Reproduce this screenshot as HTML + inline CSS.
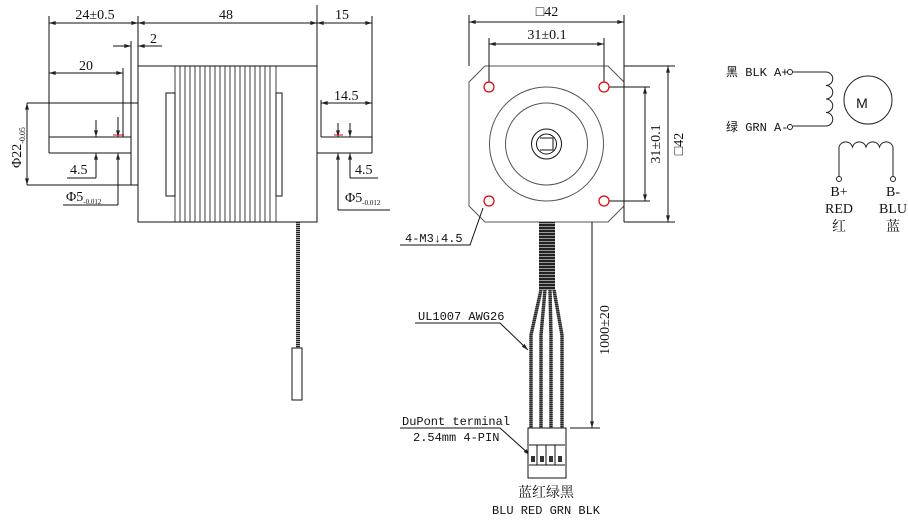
<!DOCTYPE html>
<html><head><meta charset="utf-8"><style>
html,body{margin:0;padding:0;background:#fff;}
svg{display:block;}
text{font-family:"Liberation Serif","Noto Serif CJK SC",serif;font-size:14px;fill:#111;}
.m{font-family:"Liberation Mono","Noto Sans CJK SC",monospace;font-size:12px;}
</style></head><body>
<svg width="908" height="521" viewBox="0 0 908 521" xmlns="http://www.w3.org/2000/svg">
<defs>
<marker id="a" viewBox="0 0 10 6" refX="10" refY="3" markerWidth="8" markerHeight="4" orient="auto-start-reverse"><path d="M0,0 L10,3 L0,6 z" fill="#222"/></marker>
<pattern id="br" width="4" height="3" patternUnits="userSpaceOnUse"><rect width="4" height="3" fill="#222"/><rect y="1" width="4" height="1" fill="#999"/></pattern>
<pattern id="br2" width="3" height="2" patternUnits="userSpaceOnUse"><rect width="3" height="2" fill="#222"/><rect y="1" width="3" height="1" fill="#aaa"/></pattern>
</defs>
<g stroke="#111" stroke-width="1" fill="none">
<rect x="138" y="66" width="179" height="156"/>
<g stroke-width="0.8">
<path d="M175 66V222M180 66V222M185 66V222M190 66V222M195 66V222M200 66V222M205 66V222M210 66V222M215 66V222M220 66V222M225 66V222M230 66V222M235 66V222M240 66V222M245 66V222M250 66V222M255 66V222M260 66V222M265 66V222M270 66V222M276 66V222"/>
</g>
<rect x="166" y="93" width="9" height="103"/>
<rect x="276" y="93" width="6" height="103"/>
<path d="M49 16V153M138 16V66M317 5V222M372 16V153"/>
<path d="M49 23H138" marker-start="url(#a)" marker-end="url(#a)"/>
<path d="M138 23H317" marker-start="url(#a)" marker-end="url(#a)"/>
<path d="M317 23H372" marker-start="url(#a)" marker-end="url(#a)"/>
<path d="M113 46H131" marker-end="url(#a)"/><path d="M162 46H138" marker-end="url(#a)"/>
<path d="M131 41V185"/>
<path d="M27 103H138M27 185H138M49 137H131M49 153H131M123 68V137"/>
<path d="M49 73H123" marker-start="url(#a)" marker-end="url(#a)"/>
<path d="M27 103V185" marker-start="url(#a)" marker-end="url(#a)"/>
<path d="M96 120V137" marker-end="url(#a)"/><path d="M96 178V153" marker-end="url(#a)"/><path d="M67 178H96"/>
<path d="M118 117V137" marker-end="url(#a)"/><path d="M118 205V153" marker-end="url(#a)"/><path d="M63 205H118"/>
<path d="M321 100V137M321 137H372M317 153H372"/>
<path d="M321 103H372" marker-start="url(#a)" marker-end="url(#a)"/>
<path d="M338 123V137" marker-end="url(#a)"/><path d="M338 210V153" marker-end="url(#a)"/><path d="M338 210H390"/>
<path d="M350 123V137" marker-end="url(#a)"/><path d="M350 178V153" marker-end="url(#a)"/><path d="M350 178H378"/>
</g>
<path d="M113 135H124M334 135H343" stroke="#d00" stroke-width="1"/>
<rect x="296" y="222" width="4" height="126" fill="url(#br2)"/>
<rect x="292" y="348" width="10" height="52" fill="#fff" stroke="#111"/>
<text x="95" y="19" text-anchor="middle">24±0.5</text>
<text x="226" y="19" text-anchor="middle">48</text>
<text x="342" y="19" text-anchor="middle">15</text>
<text x="150" y="43">2</text>
<text x="86" y="70" text-anchor="middle">20</text>
<text x="334" y="100">14.5</text>
<text x="70" y="174">4.5</text>
<text x="355" y="174">4.5</text>
<text x="66" y="201">Φ5<tspan font-size="7" dy="3">-0.012</tspan></text>
<text x="345" y="202">Φ5<tspan font-size="7" dy="3">-0.012</tspan></text>
<text transform="translate(21,168) rotate(-90)">Φ22<tspan font-size="8" dy="4">-0.05</tspan></text>

<g stroke="#111" fill="none">
<path d="M485 66H608L624 82V206L608 222H485L469 206V82Z" stroke="#555"/>
<path d="M469 15V66M624 15V222"/>
<path d="M469 22H624" marker-start="url(#a)" marker-end="url(#a)"/>
<path d="M489 38V87M604 38V87"/>
<path d="M489 44H604" marker-start="url(#a)" marker-end="url(#a)"/>
<circle cx="546.5" cy="144" r="57" stroke="#555"/>
<circle cx="546.5" cy="144" r="41" stroke="#555"/>
<circle cx="546.5" cy="144" r="15"/>
<circle cx="546.5" cy="144" r="10"/>
<path d="M540 138H553V150H540"/>
<path d="M604 87H650M604 201H650M624 66H675M624 222H675"/>
<path d="M645 87V201" marker-start="url(#a)" marker-end="url(#a)"/>
<path d="M668 66V222" marker-start="url(#a)" marker-end="url(#a)"/>
<path d="M400 245H470L483 208"/>
<path d="M592 222V428" marker-end="url(#a)"/><path d="M570 428H600"/>
<path d="M415 323H500L528 350" marker-end="url(#a)"/>
<path d="M400 428H500L530 455" marker-end="url(#a)"/>
</g>
<g fill="#fff" stroke="#d00" stroke-width="1.2">
<circle cx="489" cy="87" r="5"/><circle cx="604" cy="87" r="5"/><circle cx="489" cy="201" r="5"/><circle cx="604" cy="201" r="5"/>
</g>
<rect x="539" y="222" width="16" height="68" fill="url(#br)"/>
<g stroke="url(#br2)" stroke-width="3.5" fill="none">
<path d="M541 290L531 335V445M545 290L541 335V445M550 290L551 335V445M554 290L562 335V445"/>
</g>
<g stroke="#333" stroke-width="3" fill="none" opacity="0.6">
<path d="M541 290L531 335V445M545 290L541 335V445M550 290L551 335V445M554 290L562 335V445"/>
</g>
<rect x="528" y="428" width="38" height="50" fill="#fff" stroke="#111"/>
<g stroke="#111" fill="none"><path d="M529 445H565M529 465H565M537 445V465M546 445V465M555 445V465"/></g>
<g fill="#333"><rect x="531" y="456" width="4" height="6"/><rect x="540" y="456" width="4" height="6"/><rect x="549" y="456" width="4" height="6"/><rect x="558" y="456" width="4" height="6"/></g>
<text x="547" y="16" text-anchor="middle">□42</text>
<text x="547" y="39" text-anchor="middle">31±0.1</text>
<text transform="translate(660,144) rotate(-90)" text-anchor="middle">31±0.1</text>
<text transform="translate(683,144) rotate(-90)" text-anchor="middle">□42</text>
<text transform="translate(609,330) rotate(-90)" text-anchor="middle">1000±20</text>
<text class="m" x="405" y="242">4-M3↓4.5</text>
<text class="m" x="418" y="320">UL1007 AWG26</text>
<text class="m" x="402" y="425">DuPont terminal</text>
<text class="m" x="413" y="441">2.54mm 4-PIN</text>
<text x="546" y="497" text-anchor="middle">蓝红绿黑</text>
<text class="m" x="546" y="514" text-anchor="middle">BLU RED GRN BLK</text>

<g stroke="#222" fill="none">
<circle cx="790" cy="72" r="2.5"/><circle cx="790" cy="127" r="2.5"/>
<path d="M793 72H826A6 6 0 0 1 826 85.5A6 6 0 0 1 826 99A6 6 0 0 1 826 112.5A6 6 0 0 1 826 126H793"/>
<circle cx="868" cy="100" r="24"/>
<path d="M839 177V147A7 7 0 0 1 852.5 147A7 7 0 0 1 866 147A7 7 0 0 1 879.5 147A7 7 0 0 1 893 147V177"/>
<circle cx="839" cy="179" r="2.5"/><circle cx="893" cy="179" r="2.5"/>
</g>
<text x="862" y="108" font-size="22" fill="#333" text-anchor="middle" style="font-family:'Liberation Sans',sans-serif">M</text>
<text class="m" x="726" y="76">黑 BLK A+</text>
<text class="m" x="726" y="131">绿 GRN A-</text>
<text x="839" y="196" text-anchor="middle">B+</text>
<text x="839" y="213" text-anchor="middle">RED</text>
<text x="839" y="231" text-anchor="middle">红</text>
<text x="893" y="196" text-anchor="middle">B-</text>
<text x="893" y="213" text-anchor="middle">BLU</text>
<text x="893" y="231" text-anchor="middle">蓝</text>
</svg>
</body></html>
